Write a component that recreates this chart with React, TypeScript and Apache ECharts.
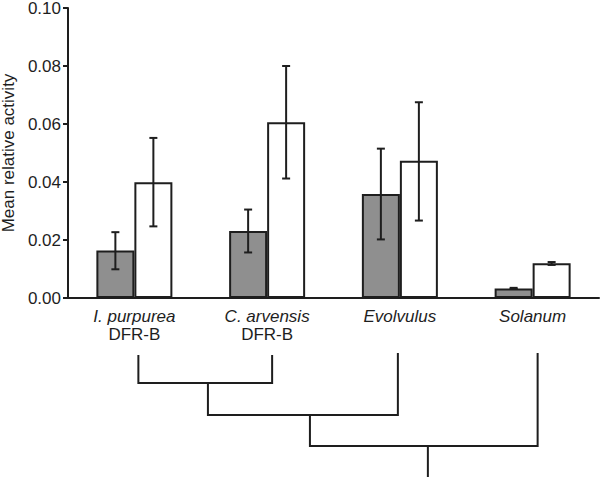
import React, { useEffect, useRef } from 'react';
import * as echarts from 'echarts';

// ---- data ----
const categoryNames = ['I. purpurea', 'C. arvensis', 'Evolvulus', 'Solanum'];
const categorySubtitles = ['DFR-B', 'DFR-B', '', ''];

const grayValues = [0.0164, 0.0231, 0.0359, 0.0033];
const grayLow = [0.0099, 0.0157, 0.0202, 0.0031];
const grayHigh = [0.0227, 0.0305, 0.0515, 0.0035];

const whiteValues = [0.0399, 0.0606, 0.0473, 0.012];
const whiteLow = [0.0247, 0.0412, 0.0267, 0.0114];
const whiteHigh = [0.0552, 0.08, 0.0675, 0.0124];

const yTicks = [0, 0.02, 0.04, 0.06, 0.08, 0.1];

// ---- layout ----
const BAR_W = 38;
const INK = '#1e1e1e';
const FONT = '"Liberation Sans", Arial, Helvetica, sans-serif';
const leafOffsets = [4, 5, -2, 5];
const joinFractions = [0.52, 0.537, 0.518];
const treeLeafTop = [355, 355, 353, 353];
const treeLevels = [383, 415, 446, 477];

export default function App() {
  const ref = useRef<HTMLDivElement>(null);
  useEffect(() => {
    document.body.style.margin = '0';
    const chart = echarts.init(ref.current!, null, { renderer: 'svg' });

    const errSeries = (low: number[], high: number[], side: number) => ({
      type: 'custom',
      z: 10,
      data: categoryNames.map((_, i) => [i, low[i], high[i]]),
      renderItem: (_p: any, api: any) => {
        const i = api.value(0);
        const lo = api.coord([i, api.value(1)]);
        const hi = api.coord([i, api.value(2)]);
        const x = lo[0] + (side * BAR_W) / 2;
        const c = 4;
        const st = { stroke: INK, lineWidth: 2 };
        return {
          type: 'group',
          children: [
            { type: 'line', shape: { x1: x, y1: hi[1], x2: x, y2: lo[1] }, style: st },
            { type: 'line', shape: { x1: x - c, y1: hi[1], x2: x + c, y2: hi[1] }, style: st },
            { type: 'line', shape: { x1: x - c, y1: lo[1], x2: x + c, y2: lo[1] }, style: st },
          ],
        };
      },
    });

    chart.setOption({
      animation: false,
      grid: { left: 68, right: 1, top: 8, bottom: 179, containLabel: false, outerBoundsMode: 'none' },
      xAxis: {
        type: 'category',
        data: categoryNames,
        axisLine: { lineStyle: { color: INK, width: 2 } },
        axisTick: { length: 5, lineStyle: { color: INK, width: 2 } },
        axisLabel: {
          margin: 9,
          interval: 0,
          formatter: (v: string) => {
            const i = categoryNames.indexOf(v);
            return categorySubtitles[i] ? `{i|${v}}\n{n|${categorySubtitles[i]}}` : `{i|${v}}`;
          },
          rich: {
            i: { fontStyle: 'italic', fontSize: 17, fontFamily: FONT, color: INK, lineHeight: 18 },
            n: { fontSize: 17, fontFamily: FONT, color: INK, lineHeight: 18 },
          },
        },
      },
      yAxis: {
        type: 'value',
        min: yTicks[0],
        max: yTicks[yTicks.length - 1],
        interval: 0.02,
        name: 'Mean relative activity',
        nameLocation: 'middle',
        nameGap: 48,
        nameTextStyle: { fontSize: 17, fontFamily: FONT, color: INK },
        axisLine: { show: true, lineStyle: { color: INK, width: 2 } },
        axisTick: { show: true, length: 5, lineStyle: { color: INK, width: 2 } },
        splitLine: { show: false },
        axisLabel: {
          margin: 7,
          fontSize: 17,
          lineHeight: 16,
          fontFamily: FONT,
          color: INK,
          formatter: (v: number) => v.toFixed(2),
        },
      },
      series: [
        {
          type: 'bar',
          data: grayValues,
          barWidth: BAR_W,
          barGap: '0%',
          itemStyle: { color: '#8f8f8f', borderColor: INK, borderWidth: 2 },
        },
        {
          type: 'bar',
          data: whiteValues,
          barWidth: BAR_W,
          barGap: '0%',
          itemStyle: { color: '#ffffff', borderColor: INK, borderWidth: 2 },
        },
        errSeries(grayLow, grayHigh, -1),
        errSeries(whiteLow, whiteHigh, 1),
      ],
    });

    // dendrogram below the categories
    const leafX = categoryNames.map(
      (_, i) => (chart.convertToPixel({ xAxisIndex: 0 }, i) as number) + leafOffsets[i]
    );
    const st = { stroke: INK, lineWidth: 2, fill: 'none' };
    const j1 = leafX[0] + joinFractions[0] * (leafX[1] - leafX[0]);
    const j2 = j1 + joinFractions[1] * (leafX[2] - j1);
    const j3 = j2 + joinFractions[2] * (leafX[3] - j2);
    chart.setOption({
      graphic: [
        {
          type: 'polyline',
          shape: {
            points: [
              [leafX[0], treeLeafTop[0]],
              [leafX[0], treeLevels[0]],
              [leafX[1], treeLevels[0]],
              [leafX[1], treeLeafTop[1]],
            ],
          },
          style: st,
        },
        {
          type: 'polyline',
          shape: {
            points: [
              [j1, treeLevels[0]],
              [j1, treeLevels[1]],
              [leafX[2], treeLevels[1]],
              [leafX[2], treeLeafTop[2]],
            ],
          },
          style: st,
        },
        {
          type: 'polyline',
          shape: {
            points: [
              [j2, treeLevels[1]],
              [j2, treeLevels[2]],
              [leafX[3], treeLevels[2]],
              [leafX[3], treeLeafTop[3]],
            ],
          },
          style: st,
        },
        {
          type: 'polyline',
          shape: { points: [[j3, treeLevels[2]], [j3, treeLevels[3]]] },
          style: st,
        },
      ],
    });

    return () => chart.dispose();
  }, []);
  return <div ref={ref} style={{ width: 600, height: 477 }} />;
}
